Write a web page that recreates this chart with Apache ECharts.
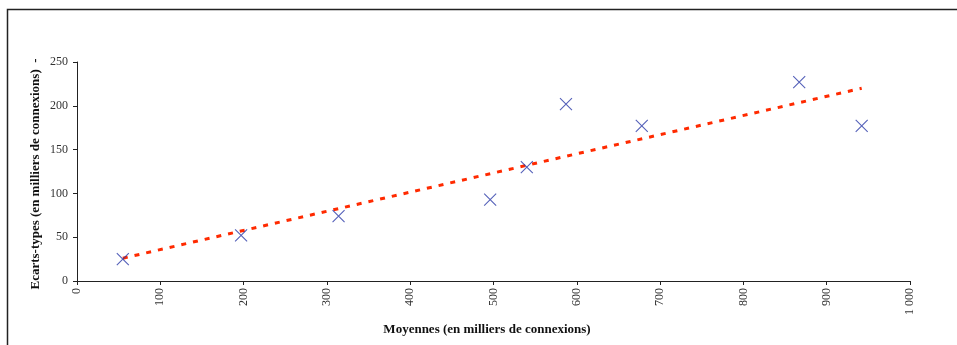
<!DOCTYPE html>
<html><head><meta charset="utf-8">
<script src="https://cdn.jsdelivr.net/npm/echarts@6/dist/echarts.min.js"></script>
<style>html,body{margin:0;padding:0;background:#fff}#c{width:957px;height:345px}</style>
</head><body><div id="c"></div>
<script>
const moyennes = [55, 197, 314, 496, 540, 587, 678, 867, 942];
const ecarts = [25, 52, 74, 93, 130, 202, 177, 227, 177];
const trendX = [55, 942];
const trendY = [26, 220];
const xTicks = ['0','100','200','300','400','500','600','700','800','900','1 000'];
const yTicks = ['0','50','100','150','200','250'];
const xTitle = 'Moyennes (en milliers de connexions)';
const yTitle = 'Ecarts-types (en milliers de connexions)  -';

const serif = '"Liberation Serif","Times New Roman",serif';
const chart = echarts.init(document.getElementById('c'));
chart.setOption({
  animation: false,
  backgroundColor: '#fff',
  grid: {left: 77, right: 47, top: 62, bottom: 64},
  graphic: [
    {type: 'rect', shape: {x: 7.5, y: 9.5, width: 1000, height: 400}, style: {fill: 'none', stroke: '#222', lineWidth: 1.5}, silent: true},
    {type: 'text', x: 487, y: 330, style: {text: xTitle, font: 'bold 13px ' + serif, fill: '#111', textAlign: 'center', textVerticalAlign: 'middle'}},
    {type: 'text', x: 36, y: 174, rotation: Math.PI / 2, style: {text: yTitle, font: 'bold 13px ' + serif, fill: '#111', textAlign: 'center', textVerticalAlign: 'middle'}}
  ],
  xAxis: {
    type: 'value', min: 0, max: 1000, interval: 100,
    axisLine: {lineStyle: {color: '#222', width: 1}},
    axisTick: {show: true, length: 4, lineStyle: {color: '#222'}},
    splitLine: {show: false},
    axisLabel: {rotate: 90, margin: 7, fontFamily: serif, fontSize: 12, color: '#333',
      formatter: v => xTicks[Math.round(v / 100)] || ''}
  },
  yAxis: {
    type: 'value', min: 0, max: 250, interval: 50,
    axisLine: {show: true, lineStyle: {color: '#222', width: 1}},
    axisTick: {show: true, length: 4, lineStyle: {color: '#222'}},
    splitLine: {show: false},
    axisLabel: {margin: 9, fontFamily: serif, fontSize: 12, color: '#333',
      formatter: v => yTicks[Math.round(v / 50)] || ''}
  },
  series: [
    {
      type: 'line', data: trendX.map((x, i) => [x, trendY[i]]),
      showSymbol: false, symbol: 'none',
      lineStyle: {color: '#ff2a00', width: 3, type: [5, 7]}, z: 2
    },
    {
      type: 'scatter', data: moyennes.map((x, i) => [x, ecarts[i]]),
      symbol: 'path://M0,0L10,10M10,0L0,10', symbolSize: 12,
      itemStyle: {color: 'none', borderColor: '#2a3aa8', borderWidth: 1.1}, z: 3
    }
  ]
});
</script></body></html>
